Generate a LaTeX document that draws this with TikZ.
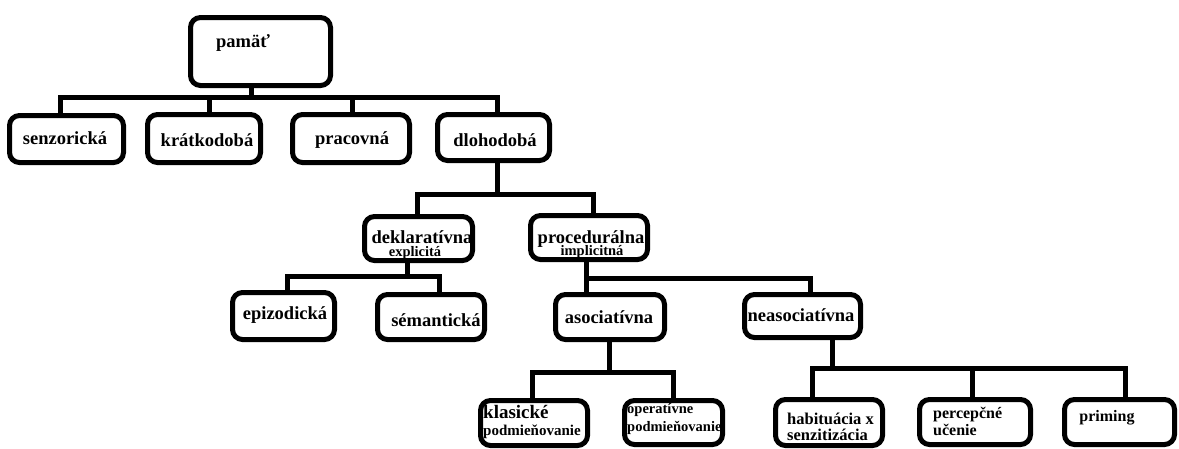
\documentclass[tikz,border=0pt]{standalone}
\usepackage{fontspec}
\setmainfont{Liberation Serif}
\begin{document}
\begin{tikzpicture}[x=1pt,y=-1pt,
  box/.style={draw=black, line width=5pt, rounded corners=10pt, inner sep=0pt, fill=white},
  conn/.style={draw=black, line width=5pt},
  lbl/.style={inner sep=0pt, text=black, font=\bfseries\fontsize{18.5}{20}\selectfont},
  lblsmall/.style={inner sep=0pt, text=black, font=\bfseries\fontsize{14.5}{16}\selectfont},
  lblmid/.style={inner sep=0pt, text=black, font=\bfseries\fontsize{16}{17}\selectfont}]
\useasboundingbox (0,0) rectangle (1179,448);

% boxes
\node[box, minimum width=140pt, minimum height=68pt] (pamat) at (260.5,51.5) {};
\node[box, minimum width=114pt, minimum height=47pt] (senz) at (66.5,139) {};
\node[box, minimum width=113pt, minimum height=48pt] (krat) at (204,138.5) {};
\node[box, minimum width=117pt, minimum height=48pt] (prac) at (351,138.5) {};
\node[box, minimum width=112pt, minimum height=46pt] (dlho) at (493.5,137.5) {};
\node[box, minimum width=108pt, minimum height=44pt] (dekl) at (418.5,238.5) {};
\node[box, minimum width=117pt, minimum height=44pt] (proc) at (589,237.5) {};
\node[box, minimum width=102pt, minimum height=47pt] (epiz) at (283.5,316) {};
\node[box, minimum width=107pt, minimum height=45pt] (sem) at (431,317) {};
\node[box, minimum width=109pt, minimum height=45pt] (asoc) at (610,317) {};
\node[box, minimum width=116pt, minimum height=43pt] (neas) at (802.5,316) {};
\node[box, minimum width=107pt, minimum height=45pt] (klas) at (534,423) {};
\node[box, minimum width=98pt, minimum height=44pt] (oper) at (673.5,422.5) {};
\node[box, minimum width=107pt, minimum height=46pt] (habi) at (829,422.5) {};
\node[box, minimum width=111pt, minimum height=45pt] (perc) at (975,422) {};
\node[box, minimum width=110pt, minimum height=45pt] (prim) at (1119.5,422) {};

% connectors
\foreach \c/\dx in {senz/-6.5, krat/5, prac/1, dlho/3.5}
  \draw[conn] ([xshift=-9.5pt]pamat.south) -- ++(0,9) -| ([xshift=\dx pt]\c.north);
\foreach \c/\dx in {dekl/-1.5, proc/4}
  \draw[conn] ([xshift=3.5pt]dlho.south) -- ++(0,31) -| ([xshift=\dx pt]\c.north);
\foreach \c/\dx in {epiz/3.5, sem/8}
  \draw[conn] ([xshift=-11.5pt]dekl.south) -- ++(0,13) -| ([xshift=\dx pt]\c.north);
\draw[conn] ([xshift=-3pt]proc.south) -- ([xshift=-24pt]asoc.north);
\draw[conn] ([xshift=-3pt]proc.south) -- ++(0,16) -| ([xshift=7.5pt]neas.north);
\foreach \c/\dx in {klas/-2, oper/-0.5}
  \draw[conn] ([xshift=-1pt]asoc.south) -- ++(0,30) -| ([xshift=\dx pt]\c.north);
\foreach \c/\dx in {habi/-17, perc/-3, prim/5.5}
  \draw[conn] ([xshift=29.5pt]neas.south) -- ++(0,28) -| ([xshift=\dx pt]\c.north);

% labels
\node[lbl] (t-pamat) at (243,43) {pamäť};
\node[lbl] (t-senz) at (65,138) {senzorická};
\node[lbl] (t-krat) at (207,140) {krátkodobá};
\node[lbl] (t-prac) at (352,140) {pracovná};
\node[lbl] (t-dlho) at (495,140) {dlohodobá};
\node[lbl, anchor=base] (t-dekl) at (422,243) {deklaratívna};
\node[lblsmall, anchor=base] (t-dekl2) at (415,256.5) {explicitá};
\node[lbl, anchor=base] (t-proc) at (591,243) {procedurálna};
\node[lblsmall, anchor=base] (t-proc2) at (592,255) {implicitná};
\node[lbl] (t-epiz) at (285,315) {epizodická};
\node[lbl] (t-sem) at (436,320) {sémantická};
\node[lbl] (t-asoc) at (609,317) {asociatívna};
\node[lbl] (t-neas) at (801,315) {neasociatívna};
\node[inner sep=0pt, font=\bfseries\fontsize{19}{20}\selectfont, anchor=base west] (t-klas) at (483,418.5) {klasické};
\node[lblsmall, font=\bfseries\fontsize{15}{16}\selectfont, anchor=base west] (t-klas2) at (483,435.5) {podmieňovanie};
\node[lblsmall, anchor=base west] (t-oper) at (627,413.5) {operatívne};
\node[lblsmall, anchor=base west] (t-oper2) at (627,431.5) {podmieňovanie};
\node[lblmid, font=\bfseries\fontsize{16.5}{17}\selectfont, anchor=base west] (t-habi) at (787,424.5) {habituácia x};
\node[lblmid, font=\bfseries\fontsize{16.5}{17}\selectfont, anchor=base west] (t-habi2) at (787,440) {senzitizácia};
\node[lblmid, anchor=base west] (t-perc) at (933,418) {percepčné};
\node[lblmid, anchor=base west] (t-perc2) at (933,435) {učenie};
\node[lblmid] (t-prim) at (1107,418) {priming};
\end{tikzpicture}
\end{document}
